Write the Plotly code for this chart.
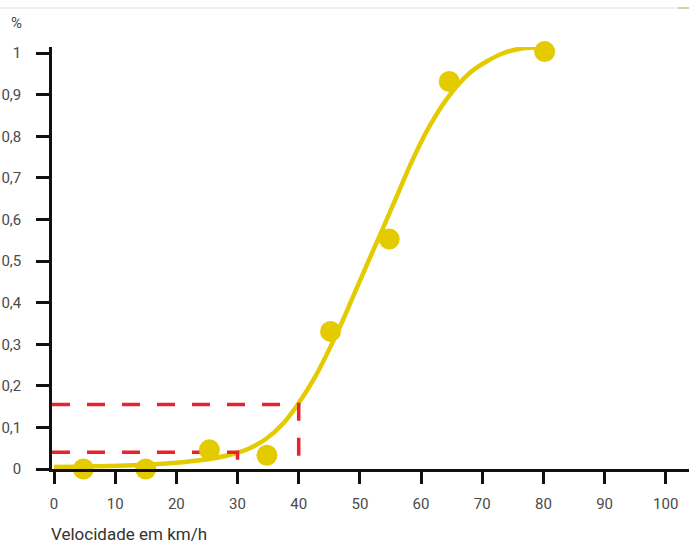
import plotly.graph_objects as go

# Observed data points (speed km/h, share)
point_speed = [4.8, 15.0, 25.4, 34.8, 45.2, 54.8, 64.6, 80.2]
point_value = [0.0, 0.0, 0.046, 0.033, 0.331, 0.553, 0.932, 1.004]

# Fitted curve
curve_speed = [0, 4.8, 15.7, 23.9, 29.3, 32.0, 34.8, 37.5, 39.7, 42.7, 46.2, 48.9,
               51.4, 53.8, 56.0, 58.5, 61.2, 64.7, 68.0, 70.7, 73.4, 76.2, 78.9, 80.0]
curve_value = [0.005, 0.006, 0.011, 0.021, 0.036, 0.05, 0.074, 0.11, 0.152, 0.222, 0.325, 0.415,
               0.50, 0.58, 0.655, 0.74, 0.82, 0.90, 0.953, 0.98, 1.0, 1.011, 1.014, 1.014]

# Reference thresholds (red dashed guides)
guide_speed = [30, 40]
guide_value = [0.04, 0.155]

x_ticks = [0, 10, 20, 30, 40, 50, 60, 70, 80, 90, 100]
y_ticks = [0, 0.1, 0.2, 0.3, 0.4, 0.5, 0.6, 0.7, 0.8, 0.9, 1]
y_tick_text = ["0", "0,1", "0,2", "0,3", "0,4", "0,5", "0,6", "0,7", "0,8", "0,9", "1"]

x_range = [-0.33, 103.8]
y_range = [0, 1.015]

FONT = "Roboto, sans-serif"
YELLOW = "#e3cb00"
RED = "#e8232b"
GRAY = "#4a4a4a"

fig = go.Figure()

fig.add_trace(go.Scatter(
    x=curve_speed, y=curve_value, mode="lines",
    line=dict(color=YELLOW, width=4.5, shape="spline", smoothing=1.0),
    hoverinfo="skip", showlegend=False, cliponaxis=False))

for gx, gy in zip(guide_speed, guide_value):
    fig.add_trace(go.Scatter(
        x=[x_range[0], gx, gx], y=[gy, gy, 0], mode="lines",
        line=dict(color=RED, width=3.5, dash="18px,17px"),
        hoverinfo="skip", showlegend=False))

fig.add_trace(go.Scatter(
    x=point_speed, y=point_value, mode="markers",
    marker=dict(color=YELLOW, size=21, line=dict(width=0)),
    showlegend=False, cliponaxis=False))

fig.update_xaxes(
    range=x_range, tickvals=x_ticks, ticktext=[str(v) for v in x_ticks],
    showgrid=False, zeroline=False, automargin=False,
    showline=True, linecolor="#111", linewidth=2.5,
    ticks="outside", ticklen=12, tickwidth=2.5, tickcolor="#111",
    tickfont=dict(family=FONT, size=15, color=GRAY), ticklabelstandoff=7)

fig.update_yaxes(
    range=y_range, tickvals=y_ticks, ticktext=y_tick_text,
    showgrid=False, zeroline=False, automargin=False,
    showline=True, linecolor="#111", linewidth=2.5,
    ticks="outside", ticklen=13, tickwidth=2.5, tickcolor="#111",
    tickfont=dict(family=FONT, size=15, color=GRAY), ticklabelstandoff=12)

fig.update_layout(
    width=689, height=543,
    margin=dict(l=52, r=0, t=47, b=74, autoexpand=False),
    paper_bgcolor="white", plot_bgcolor="white",
    annotations=[
        dict(text="%", xref="paper", yref="paper", x=(16.5 - 52) / 637, y=(469 - 22.5) / 422,
             xanchor="center", yanchor="middle", showarrow=False,
             font=dict(family=FONT, size=15, color=GRAY)),
        dict(text="Velocidade em km/h", xref="paper", yref="paper", x=(49 - 52) / 637,
             y=(469 - 534) / 422, xanchor="left", yanchor="middle", showarrow=False,
             font=dict(family=FONT, size=17, color="#333")),
    ],
    shapes=[
        dict(type="line", xref="paper", yref="paper", x0=-52 / 637, x1=1,
             y0=(469 - 8) / 422, y1=(469 - 8) / 422, line=dict(color="#ececec", width=1.5)),
        dict(type="line", xref="paper", yref="paper", x0=(678 - 52) / 637, x1=1,
             y0=(469 - 8) / 422, y1=(469 - 8) / 422, line=dict(color="#c9c88a", width=1.5)),
    ],
)

fig.write_html(
    "out.html",
    config={"displayModeBar": False},
    post_script="document.body.style.margin='0px';document.body.style.padding='0px';",
)
